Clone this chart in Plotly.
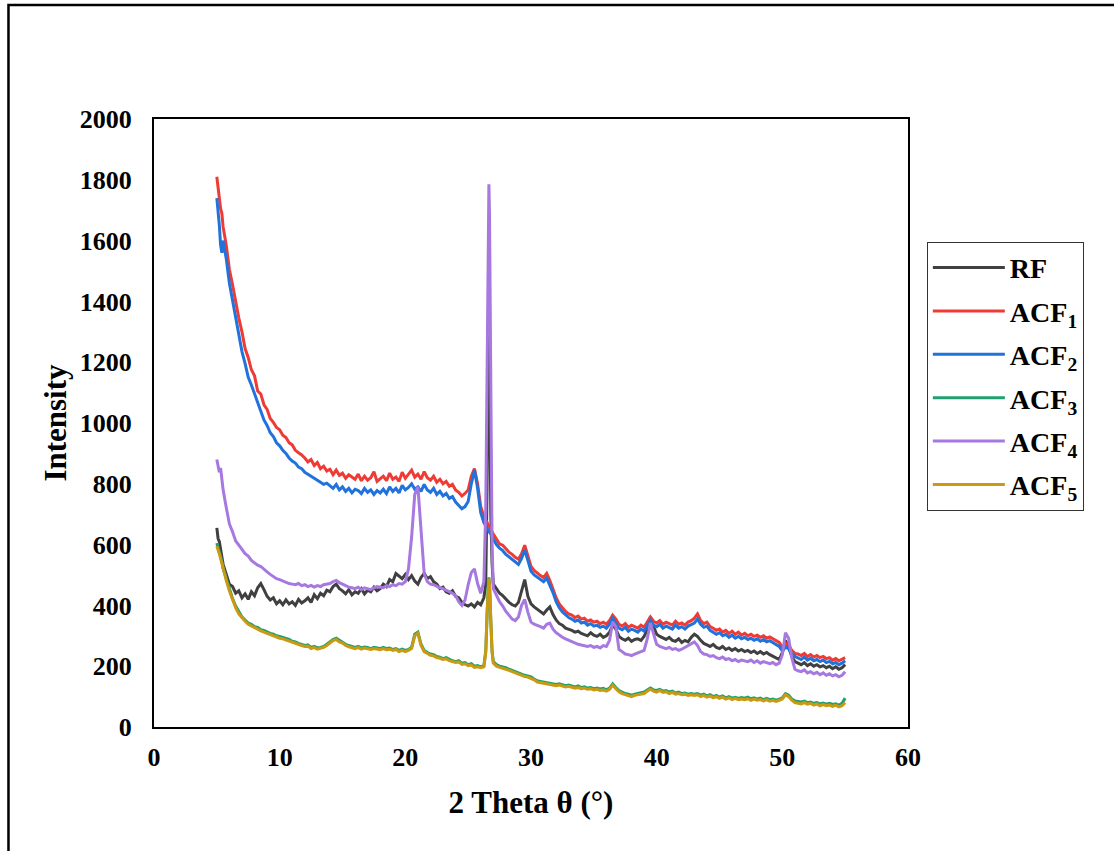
import plotly.graph_objects as go

# 2-theta positions (degrees)
theta = (
    [5.0, 5.1, 5.2, 5.3, 5.4, 5.5]
    + [5.75, 6.0, 6.25, 6.5, 6.75, 7.0, 7.25, 7.5, 7.75, 8.0, 8.25, 8.5, 8.75, 9.0, 9.25, 9.5, 9.75, 10.0]
    + [10.25, 10.5, 10.75, 11.0, 11.25, 11.5, 11.75, 12.0, 12.25, 12.5, 12.75, 13.0, 13.25, 13.5, 13.75, 14.0]
    + [14.25, 14.5, 14.75, 15.0, 15.25, 15.5, 15.75, 16.0, 16.25, 16.5, 16.75, 17.0, 17.25, 17.5, 17.75, 18.0]
    + [18.25, 18.5, 18.75, 19.0, 19.25, 19.5, 19.75, 20.0, 20.25, 20.5, 20.75, 21.0, 21.25, 21.5, 21.75, 22.0]
    + [22.25, 22.5, 22.75, 23.0, 23.25, 23.5, 23.75, 24.0, 24.25, 24.5, 24.75, 25.0, 25.25, 25.5, 25.75, 26.0, 26.25]
    + [26.4, 26.5, 26.6, 26.65, 26.7, 26.8, 26.9]
    + [27.0, 27.25, 27.5, 27.75, 28.0, 28.25, 28.5, 28.75, 29.0, 29.25, 29.5, 29.75, 30.0, 30.25, 30.5, 30.75, 31.0]
    + [31.25, 31.5, 31.75, 32.0, 32.25, 32.5, 32.75, 33.0, 33.25, 33.5, 33.75, 34.0, 34.25, 34.5, 34.75, 35.0]
    + [35.25, 35.5, 35.75, 36.0, 36.25, 36.5, 36.75, 37.0, 37.25, 37.5, 37.75, 38.0, 38.25, 38.5, 38.75, 39.0]
    + [39.25, 39.5, 39.75, 40.0, 40.25, 40.5, 40.75, 41.0, 41.25, 41.5, 41.75, 42.0, 42.25, 42.5, 42.75, 43.0]
    + [43.25, 43.5, 43.75, 44.0, 44.25, 44.5, 44.75, 45.0, 45.25, 45.5, 45.75, 46.0, 46.25, 46.5, 46.75, 47.0]
    + [47.25, 47.5, 47.75, 48.0, 48.25, 48.5, 48.75, 49.0, 49.25, 49.5, 49.75, 50.0, 50.25, 50.5, 50.75, 51.0]
    + [51.25, 51.5, 51.75, 52.0, 52.25, 52.5, 52.75, 53.0, 53.25, 53.5, 53.75, 54.0, 54.25, 54.5, 54.75, 55.0]
)

rf = (
    [655, 620, 610, 575, 560, 535]
    + [505, 470, 462, 440, 448, 425, 438, 420, 445, 432, 458, 472, 452, 430, 418, 425, 405, 415]
    + [402, 418, 405, 412, 400, 420, 408, 415, 425, 410, 435, 422, 440, 432, 450, 445]
    + [462, 470, 455, 448, 438, 452, 435, 445, 440, 455, 438, 450, 445, 460, 448, 455]
    + [470, 462, 485, 478, 505, 495, 488, 502, 485, 498, 480, 470, 492, 505, 488, 495]
    + [478, 470, 455, 460, 445, 440, 448, 430, 425, 410, 402, 398, 405, 395, 410, 402, 425]
    + [470, 780, 1300, 1390, 1200, 700, 540]
    + [470, 455, 440, 432, 420, 410, 402, 398, 410, 445, 485, 430, 405, 395, 388, 380, 372]
    + [385, 395, 370, 352, 340, 335, 325, 322, 318, 312, 315, 308, 305, 300, 310, 302]
    + [298, 305, 295, 300, 312, 335, 322, 298, 290, 285, 292, 282, 288, 290, 285, 298]
    + [320, 362, 330, 305, 298, 292, 288, 295, 285, 282, 290, 278, 285, 280, 295, 305]
    + [298, 285, 275, 270, 265, 272, 262, 258, 265, 255, 260, 252, 258, 250, 255, 248]
    + [252, 245, 250, 242, 248, 240, 245, 238, 232, 228, 222, 245, 285, 262, 232, 215]
    + [210, 205, 212, 202, 208, 200, 205, 198, 202, 195, 200, 192, 198, 190, 195, 205]
)

acf1 = (
    [1810, 1770, 1730, 1705, 1690, 1645]
    + [1585, 1505, 1455, 1395, 1345, 1300, 1245, 1215, 1175, 1155, 1105, 1095, 1060, 1045, 1015, 1002, 985, 978]
    + [960, 952, 935, 928, 910, 902, 895, 885, 872, 880, 860, 870, 850, 858, 842, 848]
    + [830, 845, 828, 835, 818, 830, 822, 815, 832, 810, 825, 812, 820, 840, 808, 818]
    + [825, 810, 835, 815, 822, 808, 838, 818, 830, 845, 822, 832, 815, 840, 820, 812]
    + [825, 805, 815, 800, 808, 792, 798, 780, 772, 760, 768, 780, 825, 850, 800, 725, 692]
    + [680, 672, 665, 662, 658, 652, 645]
    + [635, 618, 602, 598, 585, 575, 568, 558, 552, 570, 598, 565, 528, 515, 505, 498, 492]
    + [505, 482, 455, 425, 405, 392, 380, 372, 368, 360, 365, 355, 358, 348, 352, 345]
    + [348, 340, 345, 338, 350, 368, 355, 338, 332, 340, 328, 335, 330, 325, 335, 328]
    + [345, 362, 348, 342, 350, 338, 345, 340, 335, 348, 338, 342, 335, 345, 350, 358]
    + [372, 350, 340, 345, 330, 325, 318, 322, 312, 318, 308, 315, 305, 312, 302, 308]
    + [300, 305, 298, 302, 295, 300, 292, 296, 290, 285, 278, 262, 275, 270, 252, 242]
    + [240, 235, 242, 232, 238, 230, 235, 228, 232, 225, 228, 220, 225, 218, 222, 228]
)

acf2 = (
    [1740, 1705, 1650, 1585, 1560, 1600]
    + [1540, 1460, 1405, 1340, 1285, 1235, 1195, 1150, 1125, 1095, 1065, 1040, 1010, 992, 968, 955, 935, 925]
    + [910, 900, 885, 875, 868, 855, 850, 838, 832, 825, 818, 812, 805, 798, 802, 792]
    + [785, 798, 780, 790, 775, 785, 770, 782, 778, 768, 785, 772, 780, 765, 778, 770]
    + [782, 768, 790, 775, 785, 770, 795, 780, 788, 800, 782, 790, 775, 798, 780, 772]
    + [785, 765, 775, 760, 768, 752, 758, 740, 730, 718, 725, 742, 800, 845, 785, 705, 672]
    + [660, 652, 648, 645, 640, 635, 630]
    + [618, 600, 588, 580, 568, 560, 552, 542, 535, 555, 582, 548, 512, 500, 492, 485, 478]
    + [490, 468, 442, 412, 392, 378, 368, 360, 355, 348, 352, 342, 345, 335, 340, 332]
    + [335, 328, 332, 325, 338, 358, 342, 325, 320, 328, 315, 322, 318, 312, 322, 315]
    + [332, 350, 335, 330, 338, 325, 332, 328, 322, 335, 325, 330, 322, 332, 338, 342]
    + [355, 338, 328, 332, 318, 312, 305, 310, 300, 305, 295, 302, 292, 298, 290, 295]
    + [288, 292, 285, 290, 282, 288, 280, 284, 278, 272, 265, 250, 262, 258, 240, 232]
    + [228, 222, 230, 220, 226, 218, 222, 215, 220, 212, 216, 208, 212, 205, 210, 218]
)

acf3 = (
    [605, 590, 578, 562, 545, 522]
    + [488, 452, 422, 398, 378, 362, 352, 342, 338, 330, 328, 320, 318, 312, 308, 305, 300, 298]
    + [295, 290, 288, 282, 280, 275, 272, 268, 270, 262, 265, 260, 262, 265, 272, 280]
    + [288, 292, 285, 280, 272, 268, 265, 262, 265, 260, 263, 262, 258, 262, 260, 258]
    + [262, 258, 260, 255, 258, 252, 256, 252, 255, 262, 305, 312, 272, 252, 245, 240]
    + [238, 232, 230, 225, 228, 222, 218, 215, 218, 210, 212, 205, 208, 200, 202, 198, 202]
    + [250, 380, 470, 492, 470, 350, 252]
    + [215, 205, 200, 198, 195, 190, 186, 182, 176, 172, 170, 168, 165, 158, 152, 150, 148]
    + [146, 145, 142, 140, 142, 138, 136, 138, 134, 132, 135, 130, 132, 128, 130, 126]
    + [128, 125, 127, 122, 128, 142, 130, 120, 115, 110, 108, 105, 108, 110, 112, 115]
    + [122, 128, 122, 120, 124, 118, 120, 115, 118, 112, 115, 110, 112, 108, 110, 108]
    + [110, 105, 108, 102, 106, 100, 104, 98, 102, 96, 100, 95, 98, 94, 97, 95]
    + [98, 93, 96, 92, 95, 90, 94, 90, 92, 88, 92, 96, 110, 105, 92, 86]
    + [84, 82, 85, 80, 82, 78, 80, 76, 79, 75, 78, 74, 76, 72, 78, 95]
)

acf4 = (
    [880, 855, 838, 852, 815, 780]
    + [722, 668, 642, 612, 598, 582, 570, 562, 548, 540, 532, 528, 518, 510, 502, 495, 488, 485]
    + [480, 476, 472, 470, 468, 472, 465, 468, 462, 466, 460, 465, 462, 468, 470, 472]
    + [478, 482, 475, 470, 465, 460, 458, 455, 460, 452, 458, 455, 452, 458, 462, 460]
    + [458, 465, 462, 468, 465, 472, 470, 478, 520, 625, 765, 790, 640, 505, 478, 470]
    + [468, 462, 458, 455, 450, 445, 440, 432, 412, 400, 418, 468, 508, 520, 472, 440, 478]
    + [720, 1220, 1700, 1785, 1680, 1000, 600]
    + [455, 432, 412, 398, 380, 368, 355, 350, 362, 400, 420, 378, 345, 338, 335, 330, 325]
    + [338, 342, 322, 310, 302, 295, 290, 285, 280, 275, 272, 270, 268, 265, 268, 262]
    + [265, 260, 268, 265, 285, 345, 330, 255, 248, 240, 238, 235, 240, 245, 248, 252]
    + [290, 342, 305, 272, 265, 262, 258, 262, 255, 258, 252, 256, 262, 270, 275, 280]
    + [268, 248, 240, 238, 232, 235, 228, 225, 230, 222, 225, 218, 222, 215, 220, 218]
    + [215, 220, 212, 218, 210, 215, 212, 208, 212, 205, 210, 238, 310, 292, 228, 190]
    + [185, 182, 188, 178, 182, 175, 180, 172, 178, 170, 175, 168, 172, 165, 170, 182]
)

acf5 = (
    [595, 585, 570, 555, 538, 515]
    + [482, 448, 418, 392, 372, 358, 348, 338, 332, 326, 322, 316, 312, 308, 302, 300, 296, 292]
    + [290, 286, 282, 278, 275, 272, 268, 265, 266, 258, 262, 256, 258, 262, 268, 276]
    + [284, 288, 280, 276, 268, 264, 262, 258, 262, 256, 260, 258, 255, 258, 256, 254]
    + [258, 254, 256, 252, 255, 248, 252, 248, 252, 258, 300, 308, 268, 248, 242, 236]
    + [234, 228, 226, 222, 224, 218, 215, 212, 214, 206, 208, 202, 204, 196, 198, 195, 198]
    + [245, 375, 465, 488, 465, 345, 248]
    + [210, 200, 196, 194, 190, 186, 182, 178, 172, 168, 166, 164, 160, 155, 148, 146, 144]
    + [142, 140, 138, 136, 138, 134, 132, 134, 130, 128, 130, 126, 128, 124, 126, 122]
    + [124, 120, 122, 118, 124, 138, 126, 116, 110, 106, 104, 100, 104, 106, 108, 110]
    + [118, 124, 118, 115, 120, 114, 116, 110, 114, 108, 110, 106, 108, 104, 106, 104]
    + [106, 100, 104, 98, 102, 96, 100, 94, 98, 92, 96, 90, 94, 90, 92, 90]
    + [93, 88, 92, 88, 90, 86, 90, 85, 88, 84, 88, 92, 106, 100, 88, 80]
    + [78, 76, 80, 75, 78, 72, 76, 70, 74, 70, 72, 68, 72, 66, 70, 80]
)

names = ["RF", "ACF<sub>1</sub>", "ACF<sub>2</sub>", "ACF<sub>3</sub>", "ACF<sub>4</sub>", "ACF<sub>5</sub>"]
series = [rf, acf1, acf2, acf3, acf4, acf5]
colors = ["#404040", "#ef3b36", "#2272dc", "#20a070", "#a678e0", "#c99a12"]

x_ticks = [0, 10, 20, 30, 40, 50, 60]
y_ticks = [0, 200, 400, 600, 800, 1000, 1200, 1400, 1600, 1800, 2000]

FONT = "Liberation Serif, Times New Roman, serif"

fig = go.Figure()
for i, (nm, ys, c) in enumerate(zip(names, series, colors)):
    assert len(ys) == len(theta), (nm, len(ys), len(theta))
    fig.add_trace(go.Scatter(
        x=theta, y=ys, mode="lines", name=nm,
        line=dict(color=c, width=3),
        legendgroup=str(i),
    ))

fig.update_layout(
    width=1114, height=851,
    margin=dict(l=154, r=206, t=119, b=124),
    paper_bgcolor="white", plot_bgcolor="white",
    font=dict(family=FONT, color="black", size=26, weight="bold"),
    showlegend=True,
    legend=dict(
        x=1.025, y=0.798, xanchor="left", yanchor="top",
        bordercolor="#333333", borderwidth=1,
        font=dict(family=FONT, size=28, color="black", weight="bold"),
        tracegroupgap=4,
        itemwidth=72,
    ),
    xaxis=dict(
        range=[0, 60], tickvals=x_ticks,
        ticks="outside", ticklen=6, tickcolor="rgba(0,0,0,0)",
        showgrid=False, zeroline=False,
        showline=True, linecolor="black", linewidth=2, mirror=True,
        tickfont=dict(family=FONT, size=26, weight="bold"),
        title=dict(text="2 Theta θ (°)", font=dict(family=FONT, size=31, weight="bold"), standoff=20),
    ),
    yaxis=dict(
        range=[0, 2000], tickvals=y_ticks,
        ticks="outside", ticklen=15, tickcolor="rgba(0,0,0,0)",
        showgrid=False, zeroline=False,
        showline=True, linecolor="black", linewidth=2, mirror=True,
        tickfont=dict(family=FONT, size=26, weight="bold"),
        title=dict(text="Intensity", font=dict(family=FONT, size=31, weight="bold"), standoff=4),
    ),
    shapes=[dict(
        type="rect", xref="paper", yref="paper",
        x0=-0.193, x1=1.5, y0=-0.5, y1=1.1875,
        line=dict(color="black", width=2.5), fillcolor="rgba(0,0,0,0)", layer="below",
    )],
)

fig.write_html("out.html")
